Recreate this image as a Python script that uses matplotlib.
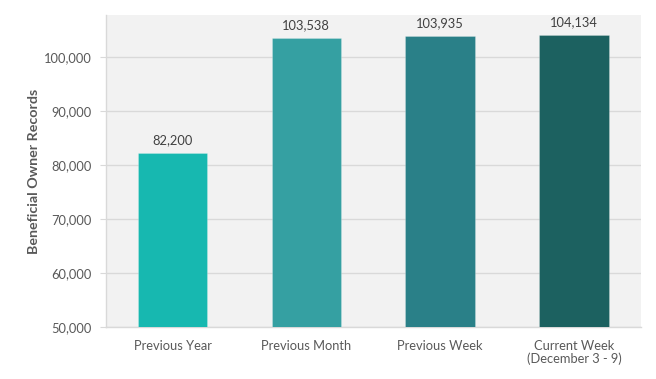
import matplotlib
matplotlib.use("Agg")
import matplotlib.pyplot as plt
from matplotlib.ticker import FuncFormatter

categories = ["Previous Year", "Previous Month", "Previous Week", "Current Week\n(December 3 - 9)"]
values = [82200, 103538, 103935, 104134]
bar_colors = ["#17B8B0", "#35A0A2", "#2A8088", "#1C6160"]
y_ticks = [50000, 60000, 70000, 80000, 90000, 100000]

plt.rcParams['font.family'] = ['Lato', 'DejaVu Sans']

fig = plt.figure(figsize=(6.56, 3.79), dpi=100)
ax = fig.add_axes([105.5/656, 1-327/379, (641-105.5)/656, (327-15)/379])
ax.set_facecolor("#F2F2F2")

x = list(range(len(categories)))
bars = ax.bar(x, values, width=0.52, color=bar_colors, zorder=3,
              edgecolor=[(1, 1, 1, 0.25)]*4, linewidth=0.6)
ax.set_xlim(-0.5, len(categories) - 0.5)
ax.set_ylim(50000, 50000 + 312/270*50000)
ax.set_yticks(y_ticks)
ax.yaxis.set_major_formatter(FuncFormatter(lambda v, p: f"{int(v):,}"))
ax.grid(axis='y', color="#D9D9D9", linewidth=1.0, zorder=0)
ax.set_xticks(x)
ax.set_xticklabels(categories, fontsize=9.3, color="#595959", linespacing=1.05)
ax.tick_params(axis='x', length=0, pad=9)
ax.tick_params(axis='y', length=4, color="#D9D9D9", labelsize=9.3, labelcolor="#595959", pad=6)

for s in ['top', 'right']:
    ax.spines[s].set_visible(False)
for s in ['left', 'bottom']:
    ax.spines[s].set_color("#D9D9D9")
    ax.spines[s].set_linewidth(1.0)

for xi, v in zip(x, values):
    ax.annotate(f"{v:,}", (xi, v), xytext=(0, 5), textcoords="offset points",
                ha="center", va="bottom", fontsize=9.3, color="#404040")

ax.set_ylabel("Beneficial Owner Records", fontsize=10.3, fontweight="bold",
              color="#595959", labelpad=3)

fig.savefig("out.png", dpi=100, facecolor="white")
